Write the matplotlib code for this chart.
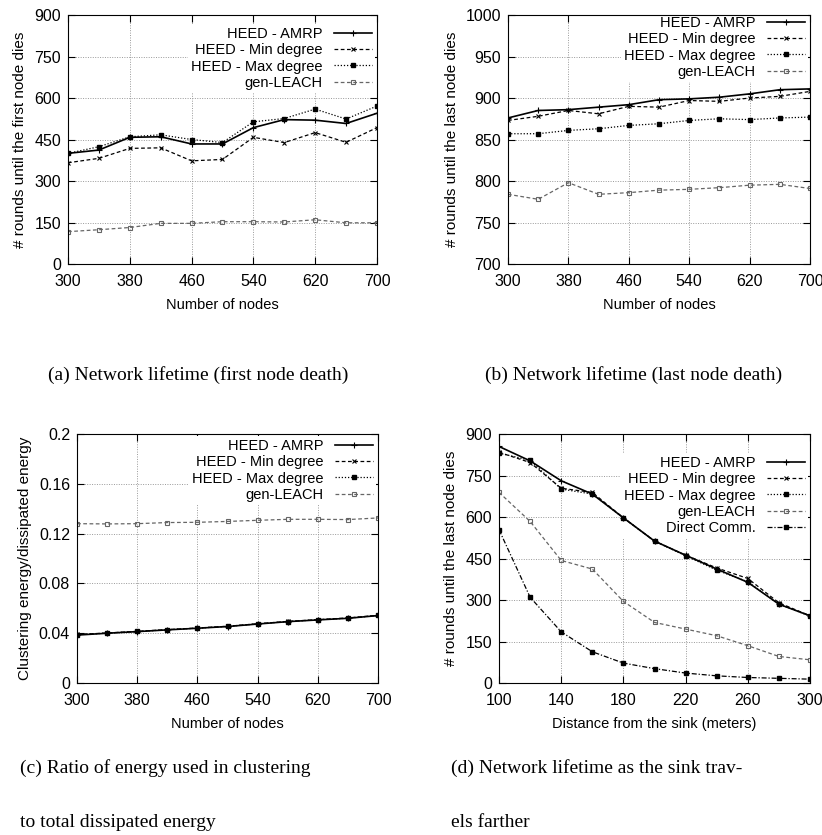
import matplotlib.pyplot as plt

plt.rcParams['font.family'] = ['Liberation Sans', 'DejaVu Sans']
plt.rcParams['font.size'] = 10

nodes = [300, 340, 380, 420, 460, 500, 540, 580, 620, 660, 700]
dist = [100, 120, 140, 160, 180, 200, 220, 240, 260, 280, 300]

# (a) first node death
a_amrp = [400, 412, 458, 460, 434, 434, 493, 522, 520, 508, 545]
a_min = [366, 382, 418, 420, 373, 378, 458, 439, 475, 440, 493]
a_max = [400, 424, 460, 467, 450, 439, 514, 526, 560, 524, 571]
a_leach = [117, 124, 132, 147, 147, 153, 153, 152, 160, 149, 149]

# (b) last node death
b_amrp = [876, 885, 886, 889, 892, 898, 899, 901, 905, 910, 911]
b_min = [873, 878, 885, 881, 890, 889, 897, 896, 900, 902, 908]
b_max = [857, 857, 861, 863, 867, 869, 873, 875, 874, 876, 877]
b_leach = [784, 778, 798, 784, 786, 789, 790, 792, 795, 796, 791]

# (c) clustering energy ratio
c_amrp = [0.0385, 0.0400, 0.0413, 0.0427, 0.0440, 0.0454, 0.0474, 0.0493, 0.0507, 0.0520, 0.0542]
c_min = [0.0390, 0.0402, 0.0415, 0.0429, 0.0442, 0.0456, 0.0476, 0.0495, 0.0509, 0.0523, 0.0544]
c_max = [0.0388, 0.0401, 0.0414, 0.0428, 0.0441, 0.0455, 0.0475, 0.0494, 0.0508, 0.0521, 0.0543]
c_leach = [0.1280, 0.1278, 0.1280, 0.1289, 0.1291, 0.1298, 0.1307, 0.1315, 0.1315, 0.1313, 0.1326]

# (d) sink distance
d_amrp = [855, 803, 731, 683, 597, 513, 462, 412, 364, 285, 243]
d_min = [834, 797, 704, 689, 597, 513, 462, 416, 378, 290, 243]
d_max = [831, 805, 701, 683, 597, 513, 460, 408, 366, 285, 242]
d_leach = [689, 584, 443, 412, 295, 219, 195, 171, 135, 96, 84]
d_direct = [554, 310, 185, 113, 72, 52, 36, 26, 20, 17, 14]

labels = ["HEED - AMRP", "HEED - Min degree", "HEED - Max degree", "gen-LEACH", "Direct Comm."]
styles = [
    dict(color='black', ls='-', marker='+', ms=4, lw=1.2, mew=0.8),
    dict(color='black', ls=(0, (3, 2)), marker='x', ms=3.5, lw=0.9, mew=0.8),
    dict(color='black', ls=(0, (1, 1.5)), marker='s', ms=2.5, lw=0.9),
    dict(color='#666666', ls=(0, (3, 2)), marker='s', ms=3.5, lw=0.9, mfc='none', mew=0.8),
    dict(color='black', ls=(0, (4, 1.5, 1, 1.5)), marker='s', ms=3.5, lw=0.9),
]

fig = plt.figure(figsize=(8.22, 8.35), dpi=100)

def panel(rect, x, series, ylim, yticks, ylabel, xlabel, xticks, leg_shift, ytickfmt=None):
    ax = fig.add_axes(rect)
    for i, y in enumerate(series):
        ax.plot(x, y, label=labels[i], zorder=3, **styles[i])
    ax.set_xlim(x[0], x[-1])
    ax.set_ylim(*ylim)
    ax.set_xticks(xticks)
    ax.set_yticks(yticks)
    if ytickfmt:
        ax.set_yticklabels(ytickfmt)
    ax.grid(True, color='#999999', ls=(0, (1, 1.5)), lw=0.7)
    ax.tick_params(direction='in', top=True, right=True, length=5, width=0.8, labelsize=11.5)
    ax.tick_params(axis='x', pad=7)
    ax.tick_params(axis='y', pad=5)
    ax.set_xlabel(xlabel, labelpad=7, fontsize=10.5)
    ax.set_ylabel(ylabel, labelpad=5, fontsize=11)
    for s in ax.spines.values():
        s.set_zorder(4)
    # legend offset from the top of the axes, in pixels
    ah = rect[3] * 835
    leg = ax.legend(loc='upper right', bbox_to_anchor=(1, 1 - leg_shift / ah),
                    markerfirst=False, frameon=True, fancybox=False,
                    edgecolor='none', facecolor='white', framealpha=1, borderpad=0.2,
                    borderaxespad=0.15, labelspacing=0.15, handlelength=2.6, handletextpad=0.8,
                    fontsize=10.5)
    leg.set_zorder(2)
    for t in leg.get_texts():
        t.set_ha('right')
    return ax

panel([0.0827, 0.6838, 0.3759, 0.2982], nodes, [a_amrp, a_min, a_max, a_leach],
      (0, 900), range(0, 901, 150), "# rounds until the first node dies", "Number of nodes",
      range(300, 701, 80), 7)
panel([0.618, 0.6838, 0.3674, 0.2982], nodes, [b_amrp, b_min, b_max, b_leach],
      (700, 1000), range(700, 1001, 50), "# rounds until the last node dies", "Number of nodes",
      range(300, 701, 80), -4)
panel([0.0937, 0.182, 0.3662, 0.2982], nodes, [c_amrp, c_min, c_max, c_leach],
      (0, 0.2), [0, 0.04, 0.08, 0.12, 0.16, 0.2], "Clustering energy/dissipated energy",
      "Number of nodes", range(300, 701, 80), 0,
      ytickfmt=["0", "0.04", "0.08", "0.12", "0.16", "0.2"])
panel([0.6071, 0.182, 0.3783, 0.2982], dist, [d_amrp, d_min, d_max, d_leach, d_direct],
      (0, 900), range(0, 901, 150), "# rounds until the last node dies",
      "Distance from the sink (meters)", range(100, 301, 40), 17)

serif = dict(family=['Liberation Serif', 'DejaVu Serif'], fontsize=14)
fig.text(0.241, 0.551, "(a) Network lifetime (first node death)", ha='center', va='center', **serif)
fig.text(0.771, 0.551, "(b) Network lifetime (last node death)", ha='center', va='center', **serif)
fig.text(0.024, 0.0802, "(c) Ratio of energy used in clustering", ha='left', va='center', **serif)
fig.text(0.024, 0.0144, "to total dissipated energy", ha='left', va='center', **serif)
fig.text(0.5487, 0.0802, "(d) Network lifetime as the sink trav-", ha='left', va='center', **serif)
fig.text(0.5487, 0.0144, "els farther", ha='left', va='center', **serif)

fig.savefig("out.png", dpi=100)
